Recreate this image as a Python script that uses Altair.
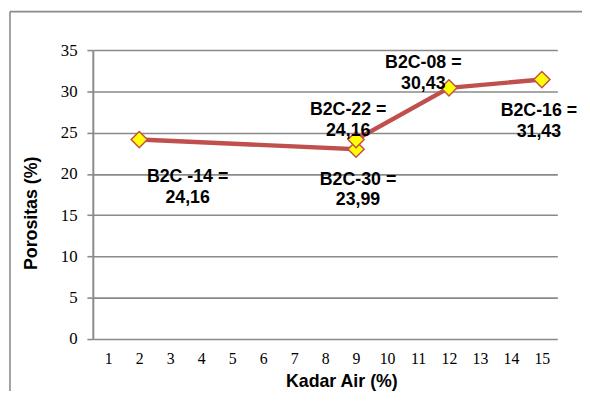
import altair as alt
import pandas as pd

# Data
kadar_air = [2, 9, 9, 12, 15]
porositas = [24.16, 23.0, 24.16, 30.43, 31.43]
labels = ["B2C -14 =\n24,16", "B2C-30 =\n23,99", "B2C-22 =\n24,16", "B2C-08 =\n30,43", "B2C-16 =\n31,43"]
x_ticks = list(range(1, 16))
y_ticks = [0, 5, 10, 15, 20, 25, 30, 35]

df = pd.DataFrame({"x": kadar_air, "y": porositas, "label": labels, "order": list(range(len(kadar_air)))})

W, H = 471, 293
GRAY = "#8a8a8a"
LINE = "#C0504D"
FS = 18
TFS = 17

xs = alt.Scale(domain=[0.5, 15.5], nice=False, zero=False)
ys = alt.Scale(domain=[0, 35], nice=False)

ax_x = alt.Axis(values=x_ticks, title="Kadar Air (%)", grid=False, domain=False, ticks=False,
                labelFont="Liberation Serif", labelFontSize=16, labelColor="#000",
                labelPadding=12, labelFlush=False, labelOverlap=False,
                titleFont="Liberation Sans", titleFontSize=FS, titleFontWeight="bold",
                titleColor="#000", titleX=252, titleY=48, titleBaseline="alphabetic")
ax_y = alt.Axis(values=y_ticks, title="Porositas (%)", grid=True, gridColor=GRAY, gridWidth=1.6,
                domain=True, domainColor=GRAY, domainWidth=2, ticks=True, tickSize=6,
                tickColor=GRAY, tickWidth=1.6, labelOverlap=False,
                labelFont="Liberation Serif", labelFontSize=TFS, labelColor="#000", labelPadding=10,
                titleFont="Liberation Sans", titleFontSize=FS, titleFontWeight="bold",
                titleColor="#000", titleX=-62, titleY=165, titleAngle=270, titleBaseline="middle")

X = alt.X("x:Q", scale=xs, axis=ax_x)
Y = alt.Y("y:Q", scale=ys, axis=ax_y)

base = alt.Chart(df)

line = base.mark_line(color=LINE, strokeWidth=4.5).encode(x=X, y=Y, order="order:Q")

points = base.mark_point(shape="diamond", filled=True, fill="#FFFF00", stroke=LINE, strokeWidth=1.5,
                         size=270, opacity=1).encode(x=X, y=Y)

offsets = {
    labels[0]: (49, 38),
    labels[1]: (2, 31),
    labels[2]: (-8, -30),
    labels[3]: (-26, -25),
    labels[4]: (-3, 32),
}

texts = []
for lab, (dx, dy) in offsets.items():
    texts.append(
        base.transform_filter(alt.datum.label == lab).mark_text(
            font="Liberation Sans", fontSize=FS, fontWeight="bold", color="#000",
            lineBreak="\n", lineHeight=21, align="center", baseline="middle", dx=dx, dy=dy
        ).encode(x=X, y=Y, text="label:N")
    )

one = pd.DataFrame({"a": [0]})
frame_top = alt.Chart(one).mark_rule(stroke=GRAY, strokeWidth=1.6).encode(
    x=alt.value(-84), x2=alt.value(700), y=alt.value(-39)
)
frame_left = alt.Chart(one).mark_rule(stroke=GRAY, strokeWidth=1.6).encode(
    x=alt.value(-84), y=alt.value(-39), y2=alt.value(420)
)

chart = alt.layer(frame_top, frame_left, line, points, *texts).properties(
    width=W, height=H,
    autosize=alt.AutoSizeParams(type="none"),
    padding={"left": 86, "top": 40, "right": 25, "bottom": 50},
    background="white",
).configure_view(stroke=None)

chart.save("out.html", embed_options={"renderer": "svg", "actions": False})
